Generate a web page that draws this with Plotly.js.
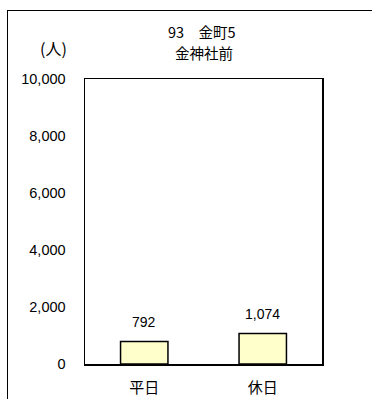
<!DOCTYPE html>
<html><head><meta charset="utf-8">
<script src="https://cdn.plot.ly/plotly-3.0.1.min.js"></script>
<style>
html,body{margin:0;padding:0;background:#fff;}
#wrap{position:absolute;left:0;top:0;width:372px;height:399px;overflow:hidden;}
#frame{position:absolute;left:7px;top:10px;width:400px;height:420px;border-left:1.5px solid #000;border-top:1.5px solid #000;pointer-events:none;}
#chart{position:absolute;left:0;top:0;width:372px;height:399px;}
</style></head>
<body>
<div id="wrap"><div id="chart"></div><div id="frame"></div></div>
<script>
const categories = ['平日', '休日'];
const values = [792, 1074];
const tickVals = [0, 2000, 4000, 6000, 8000, 10000];
const tickText = ['0', '2,000', '4,000', '6,000', '8,000', '10,000'];
const titleLines = ['93　金町5', '金神社前'];
const unitLabel = '(人)';

const numFont = '"Liberation Sans", Arial, sans-serif';
const cjkFont = '"Noto Sans CJK JP", "Liberation Sans", sans-serif';

const trace = {
  type: 'bar',
  x: categories,
  y: values,
  width: 0.4,
  marker: {color: '#FFFFCC', line: {color: '#000', width: 1.5}},
  cliponaxis: false,
  hoverinfo: 'none'
};

const labelAnns = categories.map((c, i) => ({
  text: values[i].toLocaleString('en-US'), x: c, y: values[i], xref: 'x', yref: 'y',
  xanchor: 'center', yanchor: 'bottom', yshift: 9, showarrow: false,
  font: {family: numFont, size: 14, color: '#000'}
}));

const layout = {
  width: 372, height: 399,
  margin: {l: 85, r: 50, t: 79, b: 35, pad: 0},
  paper_bgcolor: 'rgba(0,0,0,0)',
  plot_bgcolor: '#fff',
  showlegend: false,
  font: {family: numFont, color: '#000', size: 14},
  xaxis: {
    showline: true, mirror: true, linecolor: '#000', linewidth: 1.5,
    ticks: 'outside', ticklen: 9, tickcolor: 'rgba(0,0,0,0)',
    tickfont: {family: cjkFont, size: 15, color: '#000'},
    showgrid: false, fixedrange: true
  },
  yaxis: {
    range: [0, 10000],
    tickvals: tickVals, ticktext: tickText,
    showline: true, mirror: true, linecolor: '#000', linewidth: 1.5,
    ticks: 'outside', ticklen: 15, tickcolor: 'rgba(0,0,0,0)',
    tickfont: {family: numFont, size: 14.5, color: '#000'},
    showgrid: false, zeroline: false, fixedrange: true
  },
  annotations: [
    {text: titleLines[0], xref: 'paper', yref: 'paper', x: 0.495, y: 1, yshift: 48,
     xanchor: 'center', yanchor: 'middle', showarrow: false,
     font: {family: cjkFont, size: 14.5, color: '#000'}},
    {text: titleLines[1], xref: 'paper', yref: 'paper', x: 0.5, y: 1, yshift: 26.5,
     xanchor: 'center', yanchor: 'middle', showarrow: false,
     font: {family: cjkFont, size: 14.5, color: '#000'}},
    {text: unitLabel, xref: 'paper', yref: 'paper', x: -0.133, y: 1, yshift: 31,
     xanchor: 'center', yanchor: 'middle', showarrow: false,
     font: {family: cjkFont, size: 16, color: '#000'}}
  ].concat(labelAnns)
};

Plotly.newPlot('chart', [trace], layout, {staticPlot: true, displayModeBar: false});
</script>
</body></html>
